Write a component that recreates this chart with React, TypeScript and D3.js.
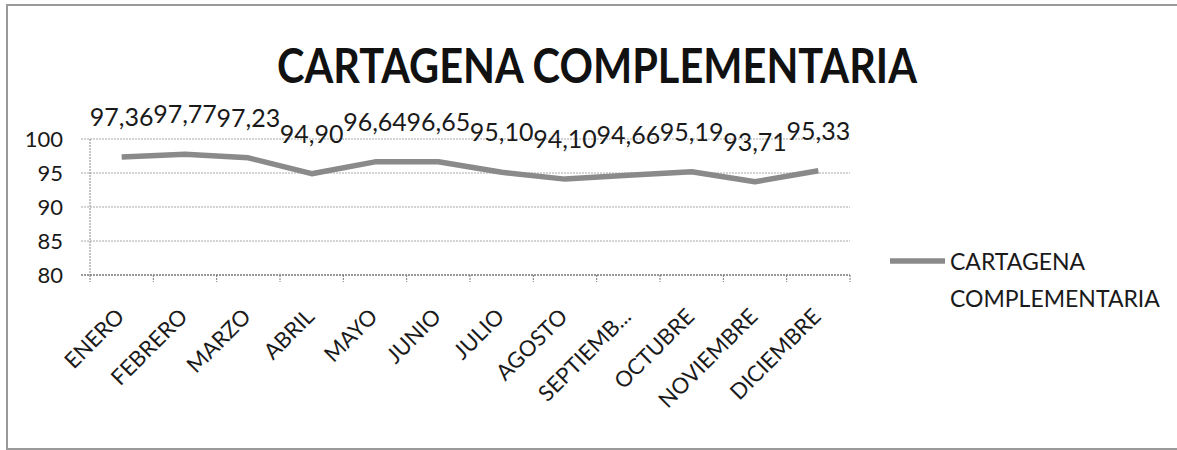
import React, { useEffect, useRef } from 'react';
import * as d3 from 'd3';

const months = ['ENERO', 'FEBRERO', 'MARZO', 'ABRIL', 'MAYO', 'JUNIO', 'JULIO', 'AGOSTO', 'SEPTIEMB...', 'OCTUBRE', 'NOVIEMBRE', 'DICIEMBRE'];
const values = [97.36, 97.77, 97.23, 94.9, 96.64, 96.65, 95.1, 94.1, 94.66, 95.19, 93.71, 95.33];
const yTicks = [80, 85, 90, 95, 100];
const seriesName = ['CARTAGENA', 'COMPLEMENTARIA'];
const title = 'CARTAGENA COMPLEMENTARIA';

const W = 1177;
const H = 450;
const plot = { left: 90, right: 850, top: 139, bottom: 275 };
const font = 'Lato, "Open Sans", sans-serif';
const lineColor = '#8a8a8a';

const App = () => {
  const ref = useRef(null);

  useEffect(() => {
    const svg = d3.select(ref.current);
    svg.selectAll('*').remove();

    const x = d3.scaleBand().domain(months).range([plot.left, plot.right]);
    const y = d3.scaleLinear().domain([80, 100]).range([plot.bottom, plot.top]);
    const cx = (m) => x(m) + x.bandwidth() / 2;

    // frame
    svg.append('rect')
      .attr('x', 7).attr('y', 5)
      .attr('width', W + 20).attr('height', H - 6)
      .attr('fill', 'white')
      .attr('stroke', '#9a9a9a')
      .attr('stroke-width', 2);

    svg.append('text')
      .attr('x', 597).attr('y', 83)
      .attr('text-anchor', 'middle')
      .attr('font-family', '"Liberation Sans Narrow", Lato, sans-serif')
      .attr('font-weight', 'bold')
      .attr('font-size', 48)
      .attr('textLength', 640)
      .attr('lengthAdjust', 'spacingAndGlyphs')
      .attr('fill', '#111')
      .text(title);

    // gridlines
    svg.append('g')
      .selectAll('line')
      .data(yTicks)
      .enter()
      .append('line')
      .attr('x1', plot.left - 9)
      .attr('x2', plot.right)
      .attr('y1', d => y(d))
      .attr('y2', d => y(d))
      .attr('stroke', d => (d === 80 ? '#777' : '#a8a8a8'))
      .attr('stroke-width', d => (d === 80 ? 1.5 : 1))
      .attr('stroke-dasharray', '2,1');

    // y axis line
    svg.append('line')
      .attr('x1', plot.left).attr('x2', plot.left)
      .attr('y1', plot.top).attr('y2', plot.bottom)
      .attr('stroke', '#888')
      .attr('stroke-dasharray', '2,1');

    svg.append('g')
      .selectAll('text')
      .data(yTicks)
      .enter()
      .append('text')
      .attr('x', 63)
      .attr('y', d => y(d) + 8)
      .attr('text-anchor', 'end')
      .attr('font-family', font)
      .attr('font-size', 22)
      .attr('fill', '#1a1a1a')
      .text(d => d);

    // x ticks
    const tickPos = months.map(m => x(m)).concat([plot.right]);
    svg.append('g')
      .selectAll('line')
      .data(tickPos)
      .enter()
      .append('line')
      .attr('x1', d => d).attr('x2', d => d)
      .attr('y1', plot.bottom).attr('y2', plot.bottom + 7)
      .attr('stroke', '#777')
      .attr('stroke-dasharray', '2,1');

    svg.append('g')
      .selectAll('text')
      .data(months)
      .enter()
      .append('text')
      .attr('transform', d => `translate(${cx(d) + 4}, ${plot.bottom + 43}) rotate(-45)`)
      .attr('text-anchor', 'end')
      .attr('font-family', font)
      .attr('font-size', 22)
      .attr('fill', '#1a1a1a')
      .text(d => d);

    // series line
    const line = d3.line()
      .x((d, i) => cx(months[i]))
      .y(d => y(d));

    svg.append('path')
      .datum(values)
      .attr('d', line)
      .attr('fill', 'none')
      .attr('stroke', lineColor)
      .attr('stroke-width', 5.5)
      .attr('stroke-linejoin', 'round');

    // data labels
    svg.append('g')
      .selectAll('text')
      .data(values)
      .enter()
      .append('text')
      .attr('x', (d, i) => cx(months[i]))
      .attr('y', d => y(d) - 31)
      .attr('text-anchor', 'middle')
      .attr('font-family', font)
      .attr('font-size', 25)
      .attr('fill', '#1a1a1a')
      .text(d => d.toFixed(2).replace('.', ','));

    // legend
    const leg = svg.append('g');
    leg.append('line')
      .attr('x1', 890).attr('x2', 945)
      .attr('y1', 261).attr('y2', 261)
      .attr('stroke', lineColor)
      .attr('stroke-width', 5.5);
    leg.append('text')
      .attr('font-family', font)
      .attr('font-size', 23)
      .attr('fill', '#1a1a1a')
      .selectAll('tspan')
      .data(seriesName)
      .enter()
      .append('tspan')
      .attr('x', 950)
      .attr('y', (d, i) => 270 + i * 37)
      .text(d => d);
  }, []);

  return (
    <svg ref={ref} width={W} height={H} style={{ position: 'absolute', left: 0, top: 0, background: 'white' }}></svg>
  );
};

export default App;
